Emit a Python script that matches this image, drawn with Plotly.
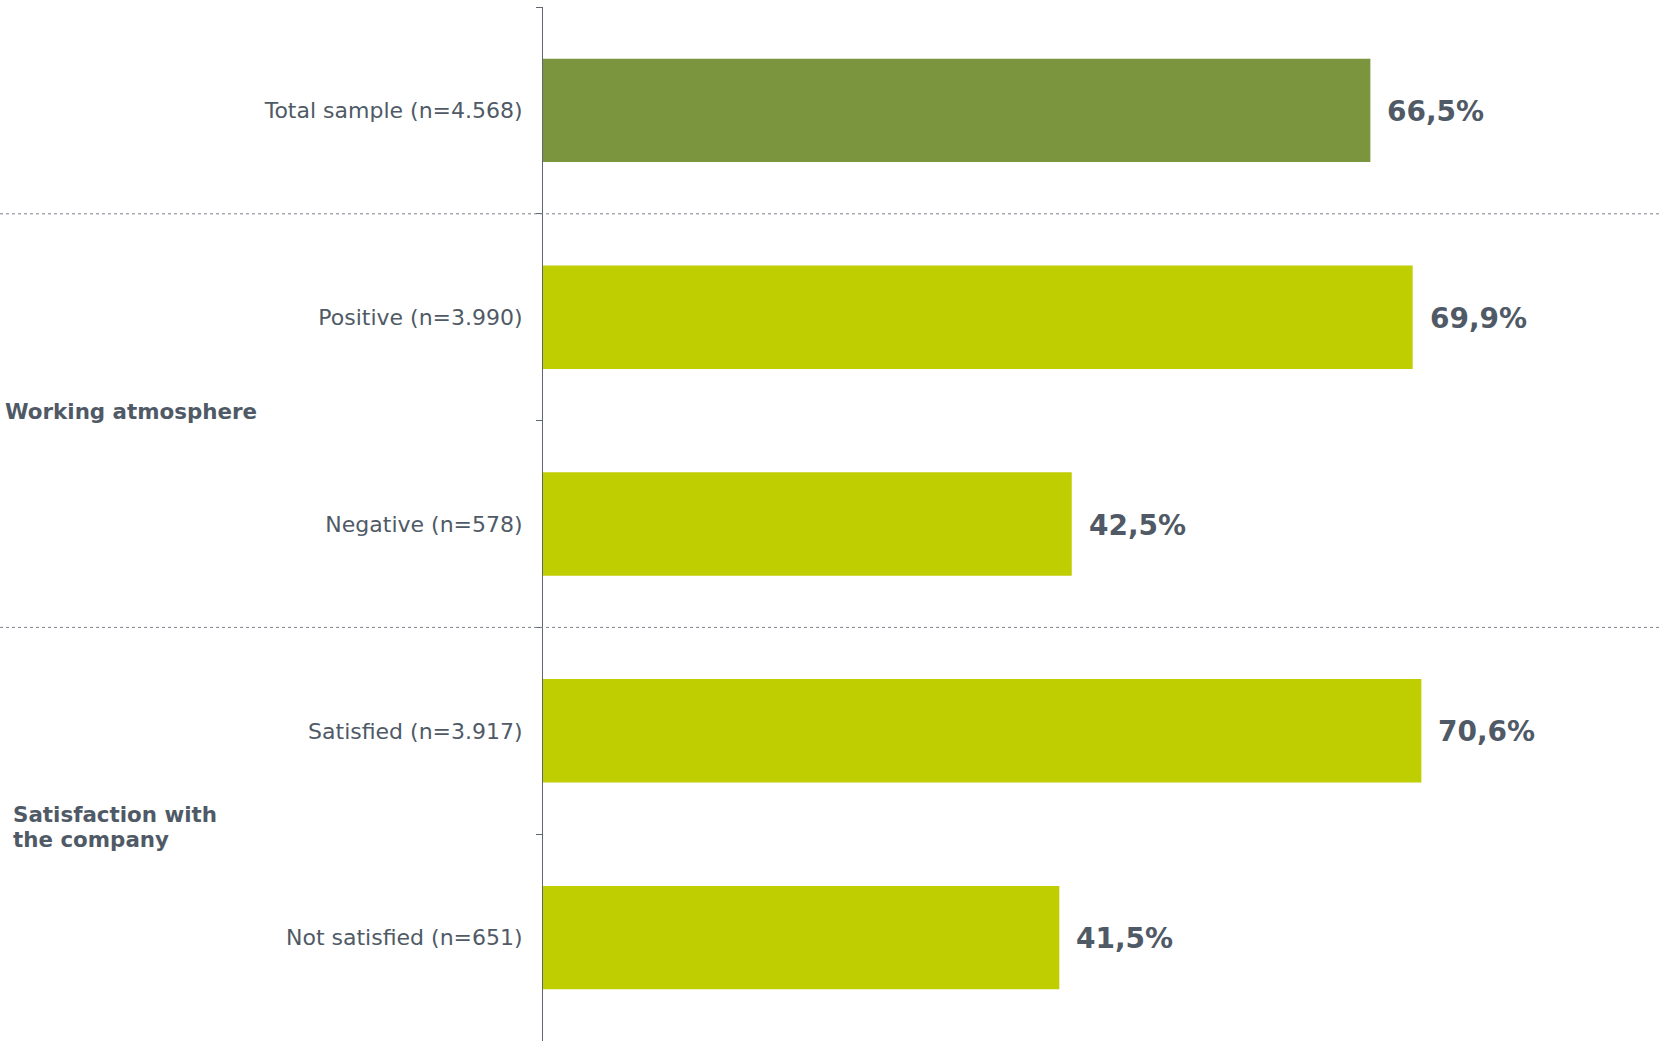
import plotly.graph_objects as go

categories = [
    "Total sample (n=4.568)",
    "Positive (n=3.990)",
    "Negative (n=578)",
    "Satisfied (n=3.917)",
    "Not satisfied (n=651)",
]
values = [66.5, 69.9, 42.5, 70.6, 41.5]
bar_colors = ["#7a953d", "#bfce00", "#bfce00", "#bfce00", "#bfce00"]
group_labels = [["Working atmosphere"], ["Satisfaction with", "the company"]]
group_members = [[1, 2], [3, 4]]

TEXT = "#4f5a66"
W, H = 1659, 1042
ML, MR, MT, MB = 543, 0, 7, 1
XMAX = 89.7

fig = go.Figure()
fig.add_trace(go.Bar(
    x=values, y=categories, orientation="h",
    marker=dict(color=bar_colors, line=dict(width=0)),
    width=0.5, hoverinfo="skip",
))

def fmt(v):
    return f"{v:.1f}".replace(".", ",") + "%"

for c, v in zip(categories, values):
    fig.add_annotation(x=v, y=c, xref="x", yref="y", text=fmt(v),
                       showarrow=False, xanchor="left", yanchor="middle",
                       xshift=15, yshift=-1,
                       font=dict(family="DejaVu Sans", size=28, color=TEXT, weight="bold"))

n = len(categories)
plot_w = W - ML - MR

def paper_y(pos):
    # reversed category axis with range [n-0.5, -0.5]
    return (n - 0.5 - pos) / n

# dotted separators between groups
for members in group_members:
    b = members[0] - 0.5
    fig.add_shape(type="line", xref="paper", yref="paper",
                  x0=-ML / plot_w, x1=1, y0=paper_y(b), y1=paper_y(b),
                  line=dict(color="#7d848c", width=1, dash="dot"))

group_x = [3, 11]
group_dy = [-9, -7]
LINE_H = 25
for lines, members, gx, dy in zip(group_labels, group_members, group_x, group_dy):
    mid = (members[0] + members[-1]) / 2
    k = len(lines)
    for i, line in enumerate(lines):
        off = dy + (i - (k - 1) / 2) * LINE_H
        fig.add_annotation(x=(gx - ML) / plot_w, y=paper_y(mid), xref="paper", yref="paper",
                           text=line, showarrow=False, xanchor="left", yanchor="middle",
                           align="left", yshift=-off,
                           font=dict(family="DejaVu Sans", size=21.4, color=TEXT, weight="bold"))

fig.update_layout(
    width=W, height=H,
    margin=dict(l=ML, r=MR, t=MT, b=MB, pad=0),
    paper_bgcolor="white", plot_bgcolor="white",
    showlegend=False,
    bargap=0.5,
    xaxis=dict(range=[0, XMAX], visible=False, showgrid=False, zeroline=False),
    yaxis=dict(
        type="category", autorange="reversed",
        showline=True, linecolor="#5f6670", linewidth=1,
        ticks="outside", tickson="boundaries", ticklen=6, tickcolor="#5f6670",
        tickwidth=1,
        showgrid=False, zeroline=False,
        ticklabelstandoff=15,
        tickfont=dict(family="DejaVu Sans", size=22, color=TEXT),
    ),
)

fig.write_html("out.html", config={"displayModeBar": False},
               post_script="document.body.style.margin='0';")
